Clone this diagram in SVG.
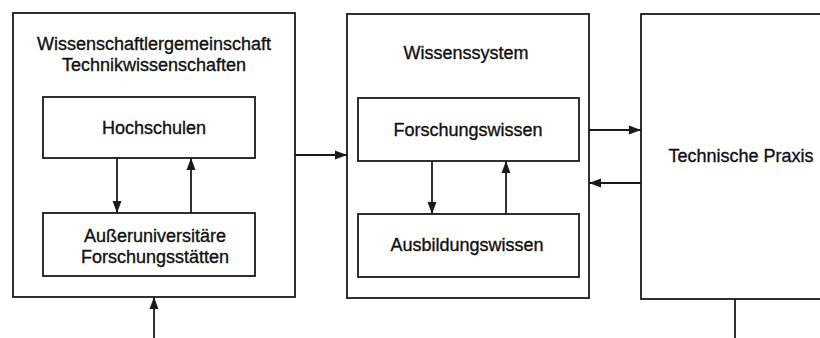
<svg xmlns="http://www.w3.org/2000/svg" width="820" height="338" viewBox="0 0 820 338">
  <style>
    .box { fill: #ffffff; stroke: #1a1a1a; stroke-width: 1.8; }
    .lbl { font-family: "Liberation Sans", Arial, sans-serif; font-size: 18px; fill: #111111; stroke: #111111; stroke-width: 0.35; text-anchor: middle; }
    .wire { fill: none; stroke: #1a1a1a; stroke-width: 1.8; }
  </style>
  <defs>
    <marker id="arrow" viewBox="0 0 12 10" refX="12" refY="5" markerWidth="12" markerHeight="10" markerUnits="userSpaceOnUse" orient="auto">
      <path d="M0,0.5 L12,5 L0,9.5 Z" fill="#1a1a1a"/>
    </marker>
  </defs>
  <rect width="820" height="338" fill="#ffffff"/>

  <!-- Scientific community -->
  <g id="gemeinschaft">
    <rect class="box" x="13" y="13" width="282" height="284"/>
    <text class="lbl" x="154" y="50">Wissenschaftlergemeinschaft</text>
    <text class="lbl" x="154" y="71">Technikwissenschaften</text>
  </g>
  <g id="hochschulen">
    <rect class="box" x="43" y="97" width="212" height="61"/>
    <text class="lbl" x="154" y="134">Hochschulen</text>
  </g>
  <g id="forschungsstaetten">
    <rect class="box" x="43" y="213" width="212" height="63"/>
    <text class="lbl" x="155" y="242">Außeruniversitäre</text>
    <text class="lbl" x="155" y="263">Forschungsstätten</text>
  </g>

  <!-- Knowledge system -->
  <g id="wissenssystem">
    <rect class="box" x="347" y="14" width="242" height="284"/>
    <text class="lbl" x="466" y="59">Wissenssystem</text>
  </g>
  <g id="forschungswissen">
    <rect class="box" x="358" y="98" width="221" height="63"/>
    <text class="lbl" x="468" y="136">Forschungswissen</text>
  </g>
  <g id="ausbildungswissen">
    <rect class="box" x="358" y="214" width="221" height="63"/>
    <text class="lbl" x="467" y="251">Ausbildungswissen</text>
  </g>

  <!-- Engineering practice -->
  <g id="praxis">
    <rect class="box" x="641" y="14" width="220" height="285"/>
    <text class="lbl" x="741" y="162">Technische Praxis</text>
  </g>

  <g id="connectors">
    <line class="wire" x1="117" y1="158" x2="117" y2="213" marker-end="url(#arrow)"/>
    <line class="wire" x1="191" y1="213" x2="191" y2="158" marker-end="url(#arrow)"/>
    <line class="wire" x1="432" y1="161" x2="432" y2="214" marker-end="url(#arrow)"/>
    <line class="wire" x1="506" y1="214" x2="506" y2="161" marker-end="url(#arrow)"/>
    <line class="wire" x1="295" y1="155" x2="347" y2="155" marker-end="url(#arrow)"/>
    <line class="wire" x1="589" y1="130" x2="641" y2="130" marker-end="url(#arrow)"/>
    <line class="wire" x1="641" y1="183" x2="589" y2="183" marker-end="url(#arrow)"/>
    <line class="wire" x1="154" y1="338" x2="154" y2="297" marker-end="url(#arrow)"/>
    <line class="wire" x1="735" y1="299" x2="735" y2="338"/>
  </g>
</svg>
